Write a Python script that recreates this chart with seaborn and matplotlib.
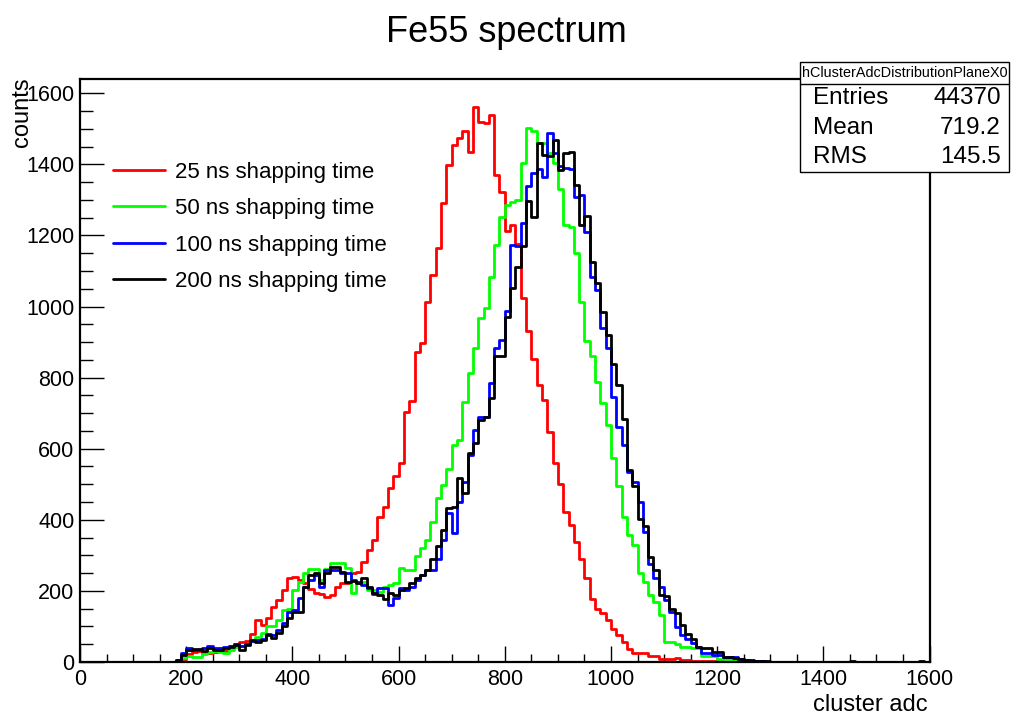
import numpy as np
import pandas as pd
import matplotlib
matplotlib.use("Agg")
import matplotlib.pyplot as plt
from matplotlib.lines import Line2D
from matplotlib.patches import Rectangle
import seaborn as sns

# histogram binning: 160 bins of 10 adc between 0 and 1600
bin_width = 10
adc_range = (0, 1600)
first_bin = 170  # lower edge of the first listed bin for every series

# counts per 10-adc bin, starting at adc 170
red_25ns = [0, 3, 8, 22, 28, 30, 25, 25, 28, 32, 30, 45, 52, 56, 60, 80, 118, 104, 123, 156,
            175, 202, 235, 240, 231, 221, 205, 195, 190, 184, 189, 212, 221, 221, 250, 254, 282, 315, 344, 409,
            437, 489, 522, 559, 704, 735, 871, 896, 1012, 1089, 1164, 1291, 1398, 1455, 1473, 1494, 1434, 1560, 1518, 1515,
            1538, 1370, 1321, 1213, 1229, 1177, 1025, 932, 851, 779, 737, 648, 560, 501, 423, 384, 338, 290, 235, 176,
            148, 137, 118, 92, 76, 57, 36, 26, 26, 26, 17, 17, 8, 8, 8, 12, 6, 6, 4, 4,
            3, 3, 2, 2, 1, 1]
green_50ns = [0, 2, 10, 18, 15, 15, 22, 28, 30, 28, 25, 35, 42, 45, 50, 58, 70, 82, 100, 100,
              118, 146, 150, 202, 226, 249, 263, 263, 230, 263, 278, 278, 278, 264, 193, 221, 226, 203, 203, 198,
              212, 217, 221, 264, 259, 259, 297, 320, 344, 395, 460, 498, 542, 610, 624, 732, 812, 883, 969, 997,
              1082, 1173, 1253, 1286, 1294, 1300, 1403, 1501, 1495, 1461, 1459, 1431, 1403, 1330, 1229, 1223, 1150, 1014, 902, 862,
              789, 729, 666, 573, 496, 409, 358, 329, 251, 226, 188, 169, 132, 57, 57, 52, 43, 43, 38, 38,
              17, 17, 17, 8, 8, 8, 5, 3, 2]
blue_100ns = [0, 5, 25, 40, 34, 34, 38, 45, 40, 40, 42, 45, 50, 45, 52, 60, 62, 65, 80, 75,
              90, 110, 141, 146, 179, 212, 232, 245, 212, 259, 259, 259, 249, 250, 230, 226, 216, 207, 190, 207,
              207, 161, 179, 207, 203, 212, 231, 245, 260, 260, 291, 344, 420, 362, 451, 506, 582, 652, 688, 688,
              786, 882, 906, 986, 1173, 1169, 1234, 1340, 1375, 1386, 1365, 1487, 1431, 1394, 1389, 1386, 1309, 1314, 1211, 1084,
              1046, 939, 882, 746, 661, 610, 535, 507, 450, 366, 277, 235, 211, 174, 141, 99, 76, 64, 53, 43,
              26, 26, 20, 20, 13, 13, 13, 8, 5, 4, 3, 2, 1]
black_200ns = [0, 5, 20, 34, 36, 36, 30, 40, 34, 34, 40, 42, 48, 34, 48, 62, 57, 62, 76, 67,
               81, 100, 123, 141, 141, 212, 245, 249, 221, 249, 266, 268, 254, 226, 229, 221, 235, 212, 193, 189,
               176, 193, 189, 203, 207, 221, 235, 245, 259, 291, 325, 371, 432, 437, 517, 474, 587, 615, 681, 690,
               742, 861, 861, 971, 1051, 1112, 1171, 1296, 1253, 1459, 1426, 1422, 1469, 1384, 1431, 1436, 1342, 1229, 1255, 1126,
               1067, 985, 919, 838, 780, 683, 540, 495, 401, 382, 296, 260, 188, 185, 148, 137, 104, 80, 64, 43,
               38, 38, 29, 29, 15, 15, 10, 8, 6, 5, 3, 3, 2, 1]
# isolated high-adc entries of the 200 ns run
black_extra_adc = [1450, 1580]
black_extra_counts = [4, 4]

labels = ["25 ns shapping time", "50 ns shapping time",
          "100 ns shapping time", "200 ns shapping time"]
colors = ["#ff0000", "#00ff00", "#0000ff", "#000000"]

stats_name = "hClusterAdcDistributionPlaneX0"
stats_rows = [("Entries", "44370"), ("Mean", "719.2"), ("RMS", "145.5")]


def to_frame(vals, extra_adc=(), extra_counts=()):
    # one row per bin centre, weighted by its count
    adc = [first_bin + bin_width * i + bin_width / 2 for i in range(len(vals))]
    adc += [a + bin_width / 2 for a in extra_adc]
    w = list(vals) + list(extra_counts)
    return pd.DataFrame({"adc": adc, "counts": w})


sns.set_style("white")
plt.rcParams["font.family"] = ["Liberation Sans", "DejaVu Sans"]
plt.rcParams["text.color"] = "black"
plt.rcParams["xtick.color"] = "black"
plt.rcParams["ytick.color"] = "black"

W, H = 1012, 715
fig = plt.figure(figsize=(W / 100, H / 100), dpi=100)
ax = fig.add_axes([80 / W, 1 - 662 / H, 849.6 / W, (662 - 79) / H])

frames = [to_frame(red_25ns), to_frame(green_50ns), to_frame(blue_100ns),
          to_frame(black_200ns, black_extra_adc, black_extra_counts)]
for df, col in zip(frames, colors):
    sns.histplot(data=df, x="adc", weights="counts", binwidth=bin_width,
                 binrange=adc_range, element="step", fill=False, color=col,
                 linewidth=2.0, ax=ax)

ax.set_xlim(0, 1600)
ax.set_ylim(0, 1640)
ax.set_xlabel("")
ax.set_ylabel("")
ax.set_xticks(np.arange(0, 1601, 200))
ax.set_xticks(np.arange(0, 1601, 50), minor=True)
ax.set_yticks(np.arange(0, 1601, 200))
ax.set_yticks(np.arange(0, 1601, 50), minor=True)
ax.tick_params(axis="x", which="major", direction="in", length=11.5, width=1.0,
               labelsize=15.5, pad=5, bottom=True, top=False)
ax.tick_params(axis="x", which="minor", direction="in", length=5.5, width=1.0,
               bottom=True, top=False)
ax.tick_params(axis="y", which="major", direction="in", length=17, width=1.0,
               labelsize=15.5, pad=4, left=True, right=False)
ax.tick_params(axis="y", which="minor", direction="in", length=9, width=1.0,
               left=True, right=False)
for sp in ax.spines.values():
    sp.set_linewidth(1.6)
    sp.set_color("black")

handles = [Line2D([], [], color=c, lw=2.0) for c in colors]
ax.legend(handles, labels, loc="upper left", bbox_to_anchor=(0.0283, 0.873),
          frameon=False, fontsize=16, handlelength=2.34, handletextpad=0.45,
          labelspacing=0.69, borderaxespad=0)

fig.text(0.5, 1 - 33 / H, "Fe55 spectrum", ha="center", va="center", fontsize=26)
fig.text(22 / W, 1 - 77 / H, "counts", rotation=90, ha="center", va="top", fontsize=17)
fig.text(928 / W, 1 - 705 / H, "cluster adc", ha="right", va="center", fontsize=17)

# stats box in the top right corner
box_l, box_r = 800 / W, 1009 / W
head_t, head_b, box_b = 1 - 62 / H, 1 - 84 / H, 1 - 172 / H
fig.patches.append(Rectangle((box_l, box_b), box_r - box_l, head_t - box_b,
                             transform=fig.transFigure, facecolor="white",
                             edgecolor="black", linewidth=1.0, zorder=5))
fig.lines.append(Line2D([box_l, box_r], [head_b, head_b], transform=fig.transFigure,
                        color="black", linewidth=1.0, zorder=6))
fig.text((box_l + box_r) / 2, (head_t + head_b) / 2, stats_name, ha="center",
         va="center", fontsize=10.4, zorder=7)
row_y = [98, 128, 157]
for (name, val), yy in zip(stats_rows, row_y):
    fig.text(813 / W, 1 - yy / H, name, ha="left", va="center", fontsize=17.5, zorder=7)
    fig.text(1001 / W, 1 - yy / H, val, ha="right", va="center", fontsize=17.5, zorder=7)

fig.savefig("out.png", dpi=100, facecolor="white")
